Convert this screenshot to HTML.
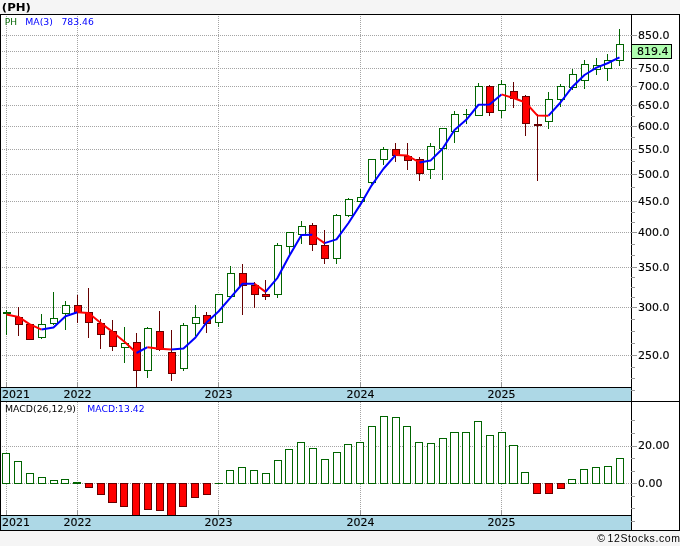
<!DOCTYPE html>
<html><head><meta charset="utf-8"><title>(PH)</title>
<style>
html,body{margin:0;padding:0;background:#f5f5f5;}
svg{display:block}
.sh rect{shape-rendering:crispEdges}
.sh line{shape-rendering:crispEdges}
text{font-family:"Liberation Sans",sans-serif;font-size:10px;fill:#000}
.ttl{font-family:"DejaVu Sans","Liberation Sans",sans-serif;font-weight:bold;font-size:11px}
.lg{font-family:"DejaVu Sans","Liberation Sans",sans-serif;font-size:9px}
.ax{font-family:"DejaVu Sans","Liberation Sans",sans-serif;font-size:11px;stroke:#000;stroke-width:0.12px}
.cp{font-family:"Liberation Sans",sans-serif;font-size:10.5px}
</style></head>
<body>
<svg width="680" height="546" viewBox="0 0 680 546">
<g class="sh">
<rect x="0" y="0" width="680" height="546" fill="#f5f5f5"/>
<rect x="0" y="14" width="680" height="517" fill="#fff"/>
<rect x="1" y="388" width="630" height="13" fill="#add8e6"/>
<rect x="1" y="516" width="630" height="14" fill="#add8e6"/>
<g stroke="#a4a4a4" stroke-width="1" stroke-dasharray="1 1" fill="none">
<line x1="2" y1="35.5" x2="631" y2="35.5"/>
<line x1="2" y1="51.5" x2="631" y2="51.5"/>
<line x1="2" y1="68.5" x2="631" y2="68.5"/>
<line x1="2" y1="86.5" x2="631" y2="86.5"/>
<line x1="2" y1="105.5" x2="631" y2="105.5"/>
<line x1="2" y1="126.5" x2="631" y2="126.5"/>
<line x1="2" y1="149.5" x2="631" y2="149.5"/>
<line x1="2" y1="174.5" x2="631" y2="174.5"/>
<line x1="2" y1="201.5" x2="631" y2="201.5"/>
<line x1="2" y1="232.5" x2="631" y2="232.5"/>
<line x1="2" y1="267.5" x2="631" y2="267.5"/>
<line x1="2" y1="307.5" x2="631" y2="307.5"/>
<line x1="2" y1="355.5" x2="631" y2="355.5"/>
<line x1="2" y1="446.5" x2="631" y2="446.5"/>
<line x1="2" y1="483.5" x2="631" y2="483.5"/>
<line x1="6.5" y1="16" x2="6.5" y2="382"/>
<line x1="6.5" y1="402" x2="6.5" y2="510"/>
<line x1="77.5" y1="16" x2="77.5" y2="382"/>
<line x1="77.5" y1="402" x2="77.5" y2="510"/>
<line x1="218.5" y1="16" x2="218.5" y2="382"/>
<line x1="218.5" y1="402" x2="218.5" y2="510"/>
<line x1="360.5" y1="16" x2="360.5" y2="382"/>
<line x1="360.5" y1="402" x2="360.5" y2="510"/>
<line x1="501.5" y1="16" x2="501.5" y2="382"/>
<line x1="501.5" y1="402" x2="501.5" y2="510"/>
</g>
<rect x="6" y="382" width="1" height="5" fill="#989898"/>
<rect x="6" y="510" width="1" height="5" fill="#989898"/>
<rect x="77" y="382" width="1" height="5" fill="#989898"/>
<rect x="77" y="510" width="1" height="5" fill="#989898"/>
<rect x="218" y="382" width="1" height="5" fill="#989898"/>
<rect x="218" y="510" width="1" height="5" fill="#989898"/>
<rect x="360" y="382" width="1" height="5" fill="#989898"/>
<rect x="360" y="510" width="1" height="5" fill="#989898"/>
<rect x="501" y="382" width="1" height="5" fill="#989898"/>
<rect x="501" y="510" width="1" height="5" fill="#989898"/>
<rect x="2" y="453" width="8" height="31" fill="#006400"/>
<rect x="3" y="454" width="6" height="29" fill="#fff"/>
<rect x="14" y="461" width="8" height="23" fill="#006400"/>
<rect x="15" y="462" width="6" height="21" fill="#fff"/>
<rect x="26" y="473" width="8" height="11" fill="#006400"/>
<rect x="27" y="474" width="6" height="9" fill="#fff"/>
<rect x="38" y="477" width="8" height="7" fill="#006400"/>
<rect x="39" y="478" width="6" height="5" fill="#fff"/>
<rect x="50" y="480" width="8" height="4" fill="#006400"/>
<rect x="51" y="481" width="6" height="2" fill="#fff"/>
<rect x="61" y="479" width="8" height="5" fill="#006400"/>
<rect x="62" y="480" width="6" height="3" fill="#fff"/>
<rect x="73" y="482" width="8" height="2" fill="#006400"/>
<rect x="85" y="483" width="8" height="5" fill="#660000"/>
<rect x="86" y="484" width="6" height="3" fill="#ff0000"/>
<rect x="97" y="483" width="8" height="12" fill="#660000"/>
<rect x="98" y="484" width="6" height="10" fill="#ff0000"/>
<rect x="108" y="483" width="9" height="20" fill="#660000"/>
<rect x="109" y="484" width="7" height="18" fill="#ff0000"/>
<rect x="120" y="483" width="8" height="24" fill="#660000"/>
<rect x="121" y="484" width="6" height="22" fill="#ff0000"/>
<rect x="132" y="483" width="8" height="32" fill="#660000"/>
<rect x="133" y="484" width="6" height="31" fill="#ff0000"/>
<rect x="144" y="483" width="8" height="27" fill="#660000"/>
<rect x="145" y="484" width="6" height="25" fill="#ff0000"/>
<rect x="156" y="483" width="8" height="28" fill="#660000"/>
<rect x="157" y="484" width="6" height="26" fill="#ff0000"/>
<rect x="167" y="483" width="9" height="32" fill="#660000"/>
<rect x="168" y="484" width="7" height="31" fill="#ff0000"/>
<rect x="179" y="483" width="8" height="24" fill="#660000"/>
<rect x="180" y="484" width="6" height="22" fill="#ff0000"/>
<rect x="191" y="483" width="8" height="15" fill="#660000"/>
<rect x="192" y="484" width="6" height="13" fill="#ff0000"/>
<rect x="203" y="483" width="8" height="12" fill="#660000"/>
<rect x="204" y="484" width="6" height="10" fill="#ff0000"/>
<rect x="215" y="483" width="8" height="1" fill="#006400"/>
<rect x="226" y="470" width="8" height="14" fill="#006400"/>
<rect x="227" y="471" width="6" height="12" fill="#fff"/>
<rect x="238" y="467" width="8" height="17" fill="#006400"/>
<rect x="239" y="468" width="6" height="15" fill="#fff"/>
<rect x="250" y="470" width="8" height="14" fill="#006400"/>
<rect x="251" y="471" width="6" height="12" fill="#fff"/>
<rect x="262" y="473" width="8" height="11" fill="#006400"/>
<rect x="263" y="474" width="6" height="9" fill="#fff"/>
<rect x="274" y="460" width="8" height="24" fill="#006400"/>
<rect x="275" y="461" width="6" height="22" fill="#fff"/>
<rect x="285" y="449" width="8" height="35" fill="#006400"/>
<rect x="286" y="450" width="6" height="33" fill="#fff"/>
<rect x="297" y="442" width="8" height="42" fill="#006400"/>
<rect x="298" y="443" width="6" height="40" fill="#fff"/>
<rect x="309" y="448" width="8" height="36" fill="#006400"/>
<rect x="310" y="449" width="6" height="34" fill="#fff"/>
<rect x="321" y="459" width="8" height="25" fill="#006400"/>
<rect x="322" y="460" width="6" height="23" fill="#fff"/>
<rect x="333" y="452" width="8" height="32" fill="#006400"/>
<rect x="334" y="453" width="6" height="30" fill="#fff"/>
<rect x="344" y="444" width="8" height="40" fill="#006400"/>
<rect x="345" y="445" width="6" height="38" fill="#fff"/>
<rect x="356" y="442" width="8" height="42" fill="#006400"/>
<rect x="357" y="443" width="6" height="40" fill="#fff"/>
<rect x="368" y="426" width="8" height="58" fill="#006400"/>
<rect x="369" y="427" width="6" height="56" fill="#fff"/>
<rect x="380" y="416" width="8" height="68" fill="#006400"/>
<rect x="381" y="417" width="6" height="66" fill="#fff"/>
<rect x="392" y="417" width="8" height="67" fill="#006400"/>
<rect x="393" y="418" width="6" height="65" fill="#fff"/>
<rect x="403" y="426" width="8" height="58" fill="#006400"/>
<rect x="404" y="427" width="6" height="56" fill="#fff"/>
<rect x="415" y="442" width="8" height="42" fill="#006400"/>
<rect x="416" y="443" width="6" height="40" fill="#fff"/>
<rect x="427" y="443" width="8" height="41" fill="#006400"/>
<rect x="428" y="444" width="6" height="39" fill="#fff"/>
<rect x="439" y="438" width="8" height="46" fill="#006400"/>
<rect x="440" y="439" width="6" height="44" fill="#fff"/>
<rect x="450" y="432" width="9" height="52" fill="#006400"/>
<rect x="451" y="433" width="7" height="50" fill="#fff"/>
<rect x="462" y="432" width="8" height="52" fill="#006400"/>
<rect x="463" y="433" width="6" height="50" fill="#fff"/>
<rect x="474" y="421" width="8" height="63" fill="#006400"/>
<rect x="475" y="422" width="6" height="61" fill="#fff"/>
<rect x="486" y="435" width="8" height="49" fill="#006400"/>
<rect x="487" y="436" width="6" height="47" fill="#fff"/>
<rect x="498" y="432" width="8" height="52" fill="#006400"/>
<rect x="499" y="433" width="6" height="50" fill="#fff"/>
<rect x="509" y="445" width="9" height="39" fill="#006400"/>
<rect x="510" y="446" width="7" height="37" fill="#fff"/>
<rect x="521" y="472" width="8" height="12" fill="#006400"/>
<rect x="522" y="473" width="6" height="10" fill="#fff"/>
<rect x="533" y="483" width="8" height="11" fill="#660000"/>
<rect x="534" y="484" width="6" height="9" fill="#ff0000"/>
<rect x="545" y="483" width="8" height="11" fill="#660000"/>
<rect x="546" y="484" width="6" height="9" fill="#ff0000"/>
<rect x="557" y="483" width="8" height="6" fill="#660000"/>
<rect x="558" y="484" width="6" height="4" fill="#ff0000"/>
<rect x="568" y="479" width="8" height="5" fill="#006400"/>
<rect x="569" y="480" width="6" height="3" fill="#fff"/>
<rect x="580" y="469" width="8" height="15" fill="#006400"/>
<rect x="581" y="470" width="6" height="13" fill="#fff"/>
<rect x="592" y="467" width="8" height="17" fill="#006400"/>
<rect x="593" y="468" width="6" height="15" fill="#fff"/>
<rect x="604" y="466" width="8" height="18" fill="#006400"/>
<rect x="605" y="467" width="6" height="16" fill="#fff"/>
<rect x="616" y="458" width="8" height="26" fill="#006400"/>
<rect x="617" y="459" width="6" height="24" fill="#fff"/>
<rect x="6" y="310" width="1" height="25" fill="#006400"/>
<rect x="3" y="312" width="8" height="2" fill="#006400"/>
<rect x="18" y="307" width="1" height="29" fill="#660000"/>
<rect x="15" y="317" width="8" height="8" fill="#660000"/>
<rect x="16" y="318" width="6" height="6" fill="#ff0000"/>
<rect x="29" y="324" width="1" height="16" fill="#660000"/>
<rect x="26" y="324" width="8" height="16" fill="#660000"/>
<rect x="27" y="325" width="6" height="14" fill="#ff0000"/>
<rect x="41" y="314" width="1" height="25" fill="#006400"/>
<rect x="38" y="324" width="8" height="14" fill="#006400"/>
<rect x="39" y="325" width="6" height="12" fill="#fff"/>
<rect x="53" y="292" width="1" height="33" fill="#006400"/>
<rect x="50" y="318" width="8" height="6" fill="#006400"/>
<rect x="51" y="319" width="6" height="4" fill="#fff"/>
<rect x="65" y="301" width="1" height="29" fill="#006400"/>
<rect x="62" y="305" width="8" height="9" fill="#006400"/>
<rect x="63" y="306" width="6" height="7" fill="#fff"/>
<rect x="77" y="295" width="1" height="28" fill="#660000"/>
<rect x="74" y="305" width="8" height="8" fill="#660000"/>
<rect x="75" y="306" width="6" height="6" fill="#ff0000"/>
<rect x="88" y="288" width="1" height="50" fill="#660000"/>
<rect x="85" y="312" width="8" height="11" fill="#660000"/>
<rect x="86" y="313" width="6" height="9" fill="#ff0000"/>
<rect x="100" y="319" width="1" height="30" fill="#660000"/>
<rect x="97" y="323" width="8" height="12" fill="#660000"/>
<rect x="98" y="324" width="6" height="10" fill="#ff0000"/>
<rect x="112" y="320" width="1" height="31" fill="#660000"/>
<rect x="109" y="331" width="8" height="16" fill="#660000"/>
<rect x="110" y="332" width="6" height="14" fill="#ff0000"/>
<rect x="124" y="327" width="1" height="36" fill="#006400"/>
<rect x="121" y="343" width="8" height="5" fill="#006400"/>
<rect x="122" y="344" width="6" height="3" fill="#fff"/>
<rect x="136" y="333" width="1" height="54" fill="#660000"/>
<rect x="133" y="342" width="8" height="29" fill="#660000"/>
<rect x="134" y="343" width="6" height="27" fill="#ff0000"/>
<rect x="147" y="327" width="1" height="51" fill="#006400"/>
<rect x="144" y="328" width="8" height="43" fill="#006400"/>
<rect x="145" y="329" width="6" height="41" fill="#fff"/>
<rect x="159" y="311" width="1" height="40" fill="#660000"/>
<rect x="156" y="331" width="8" height="19" fill="#660000"/>
<rect x="157" y="332" width="6" height="17" fill="#ff0000"/>
<rect x="171" y="330" width="1" height="51" fill="#660000"/>
<rect x="168" y="352" width="8" height="22" fill="#660000"/>
<rect x="169" y="353" width="6" height="20" fill="#ff0000"/>
<rect x="183" y="323" width="1" height="48" fill="#006400"/>
<rect x="180" y="325" width="8" height="44" fill="#006400"/>
<rect x="181" y="326" width="6" height="42" fill="#fff"/>
<rect x="195" y="305" width="1" height="31" fill="#006400"/>
<rect x="192" y="317" width="8" height="7" fill="#006400"/>
<rect x="193" y="318" width="6" height="5" fill="#fff"/>
<rect x="206" y="312" width="1" height="21" fill="#660000"/>
<rect x="203" y="315" width="8" height="9" fill="#660000"/>
<rect x="204" y="316" width="6" height="7" fill="#ff0000"/>
<rect x="218" y="294" width="1" height="33" fill="#006400"/>
<rect x="215" y="294" width="8" height="29" fill="#006400"/>
<rect x="216" y="295" width="6" height="27" fill="#fff"/>
<rect x="230" y="266" width="1" height="31" fill="#006400"/>
<rect x="227" y="273" width="8" height="24" fill="#006400"/>
<rect x="228" y="274" width="6" height="22" fill="#fff"/>
<rect x="242" y="264" width="1" height="51" fill="#660000"/>
<rect x="239" y="273" width="8" height="13" fill="#660000"/>
<rect x="240" y="274" width="6" height="11" fill="#ff0000"/>
<rect x="254" y="282" width="1" height="26" fill="#660000"/>
<rect x="251" y="285" width="8" height="10" fill="#660000"/>
<rect x="252" y="286" width="6" height="8" fill="#ff0000"/>
<rect x="265" y="280" width="1" height="20" fill="#660000"/>
<rect x="262" y="294" width="8" height="3" fill="#660000"/>
<rect x="263" y="295" width="6" height="1" fill="#ff0000"/>
<rect x="277" y="243" width="1" height="55" fill="#006400"/>
<rect x="274" y="245" width="8" height="50" fill="#006400"/>
<rect x="275" y="246" width="6" height="48" fill="#fff"/>
<rect x="289" y="232" width="1" height="22" fill="#006400"/>
<rect x="286" y="232" width="8" height="15" fill="#006400"/>
<rect x="287" y="233" width="6" height="13" fill="#fff"/>
<rect x="301" y="221" width="1" height="23" fill="#006400"/>
<rect x="298" y="226" width="8" height="9" fill="#006400"/>
<rect x="299" y="227" width="6" height="7" fill="#fff"/>
<rect x="312" y="223" width="1" height="28" fill="#660000"/>
<rect x="309" y="225" width="8" height="20" fill="#660000"/>
<rect x="310" y="226" width="6" height="18" fill="#ff0000"/>
<rect x="324" y="230" width="1" height="34" fill="#660000"/>
<rect x="321" y="245" width="8" height="14" fill="#660000"/>
<rect x="322" y="246" width="6" height="12" fill="#ff0000"/>
<rect x="336" y="214" width="1" height="50" fill="#006400"/>
<rect x="333" y="215" width="8" height="44" fill="#006400"/>
<rect x="334" y="216" width="6" height="42" fill="#fff"/>
<rect x="348" y="198" width="1" height="19" fill="#006400"/>
<rect x="345" y="199" width="8" height="17" fill="#006400"/>
<rect x="346" y="200" width="6" height="15" fill="#fff"/>
<rect x="360" y="189" width="1" height="13" fill="#006400"/>
<rect x="357" y="197" width="8" height="5" fill="#006400"/>
<rect x="358" y="198" width="6" height="3" fill="#fff"/>
<rect x="371" y="159" width="1" height="25" fill="#006400"/>
<rect x="368" y="159" width="8" height="24" fill="#006400"/>
<rect x="369" y="160" width="6" height="22" fill="#fff"/>
<rect x="383" y="147" width="1" height="18" fill="#006400"/>
<rect x="380" y="149" width="8" height="11" fill="#006400"/>
<rect x="381" y="150" width="6" height="9" fill="#fff"/>
<rect x="395" y="143" width="1" height="19" fill="#660000"/>
<rect x="392" y="149" width="8" height="7" fill="#660000"/>
<rect x="393" y="150" width="6" height="5" fill="#ff0000"/>
<rect x="407" y="143" width="1" height="27" fill="#660000"/>
<rect x="404" y="156" width="8" height="5" fill="#660000"/>
<rect x="405" y="157" width="6" height="3" fill="#ff0000"/>
<rect x="419" y="157" width="1" height="24" fill="#660000"/>
<rect x="416" y="159" width="8" height="15" fill="#660000"/>
<rect x="417" y="160" width="6" height="13" fill="#ff0000"/>
<rect x="430" y="143" width="1" height="36" fill="#006400"/>
<rect x="427" y="146" width="8" height="24" fill="#006400"/>
<rect x="428" y="147" width="6" height="22" fill="#fff"/>
<rect x="442" y="128" width="1" height="52" fill="#006400"/>
<rect x="439" y="128" width="8" height="21" fill="#006400"/>
<rect x="440" y="129" width="6" height="19" fill="#fff"/>
<rect x="454" y="111" width="1" height="32" fill="#006400"/>
<rect x="451" y="114" width="8" height="18" fill="#006400"/>
<rect x="452" y="115" width="6" height="16" fill="#fff"/>
<rect x="466" y="109" width="1" height="15" fill="#006400"/>
<rect x="463" y="114" width="8" height="1" fill="#006400"/>
<rect x="478" y="83" width="1" height="33" fill="#006400"/>
<rect x="475" y="86" width="8" height="30" fill="#006400"/>
<rect x="476" y="87" width="6" height="28" fill="#fff"/>
<rect x="489" y="85" width="1" height="31" fill="#660000"/>
<rect x="486" y="86" width="8" height="27" fill="#660000"/>
<rect x="487" y="87" width="6" height="25" fill="#ff0000"/>
<rect x="501" y="80" width="1" height="38" fill="#006400"/>
<rect x="498" y="84" width="8" height="27" fill="#006400"/>
<rect x="499" y="85" width="6" height="25" fill="#fff"/>
<rect x="513" y="82" width="1" height="26" fill="#660000"/>
<rect x="510" y="91" width="8" height="8" fill="#660000"/>
<rect x="511" y="92" width="6" height="6" fill="#ff0000"/>
<rect x="525" y="95" width="1" height="41" fill="#660000"/>
<rect x="522" y="96" width="8" height="28" fill="#660000"/>
<rect x="523" y="97" width="6" height="26" fill="#ff0000"/>
<rect x="537" y="114" width="1" height="67" fill="#660000"/>
<rect x="534" y="124" width="8" height="2" fill="#660000"/>
<rect x="548" y="92" width="1" height="37" fill="#006400"/>
<rect x="545" y="99" width="8" height="23" fill="#006400"/>
<rect x="546" y="100" width="6" height="21" fill="#fff"/>
<rect x="560" y="84" width="1" height="23" fill="#006400"/>
<rect x="557" y="86" width="8" height="14" fill="#006400"/>
<rect x="558" y="87" width="6" height="12" fill="#fff"/>
<rect x="572" y="69" width="1" height="21" fill="#006400"/>
<rect x="569" y="74" width="8" height="14" fill="#006400"/>
<rect x="570" y="75" width="6" height="12" fill="#fff"/>
<rect x="584" y="60" width="1" height="29" fill="#006400"/>
<rect x="581" y="64" width="8" height="17" fill="#006400"/>
<rect x="582" y="65" width="6" height="15" fill="#fff"/>
<rect x="596" y="58" width="1" height="17" fill="#006400"/>
<rect x="593" y="65" width="8" height="5" fill="#006400"/>
<rect x="594" y="66" width="6" height="3" fill="#fff"/>
<rect x="607" y="54" width="1" height="27" fill="#006400"/>
<rect x="604" y="60" width="8" height="9" fill="#006400"/>
<rect x="605" y="61" width="6" height="7" fill="#fff"/>
<rect x="619" y="29" width="1" height="37" fill="#006400"/>
<rect x="616" y="44" width="8" height="17" fill="#006400"/>
<rect x="617" y="45" width="6" height="15" fill="#fff"/>
<rect x="0" y="14" width="680" height="1" fill="#000"/>
<rect x="0" y="14" width="1" height="517" fill="#000"/>
<rect x="679" y="14" width="1" height="517" fill="#000"/>
<rect x="0" y="530" width="680" height="1" fill="#000"/>
<rect x="631" y="14" width="1" height="517" fill="#000"/>
<rect x="0" y="387" width="632" height="1" fill="#000"/>
<rect x="0" y="401" width="680" height="1" fill="#000"/>
<rect x="0" y="515" width="632" height="1" fill="#000"/>
<rect x="631" y="35" width="6" height="1" fill="#989898"/>
<rect x="631" y="51" width="6" height="1" fill="#989898"/>
<rect x="631" y="68" width="6" height="1" fill="#989898"/>
<rect x="631" y="86" width="6" height="1" fill="#989898"/>
<rect x="631" y="105" width="6" height="1" fill="#989898"/>
<rect x="631" y="126" width="6" height="1" fill="#989898"/>
<rect x="631" y="149" width="6" height="1" fill="#989898"/>
<rect x="631" y="174" width="6" height="1" fill="#989898"/>
<rect x="631" y="201" width="6" height="1" fill="#989898"/>
<rect x="631" y="232" width="6" height="1" fill="#989898"/>
<rect x="631" y="267" width="6" height="1" fill="#989898"/>
<rect x="631" y="307" width="6" height="1" fill="#989898"/>
<rect x="631" y="355" width="6" height="1" fill="#989898"/>
<rect x="631" y="446" width="6" height="1" fill="#989898"/>
<rect x="631" y="483" width="6" height="1" fill="#989898"/>
<rect x="631" y="116" width="4" height="1" fill="#989898"/>
<rect x="631" y="137" width="4" height="1" fill="#989898"/>
<rect x="631" y="161" width="4" height="1" fill="#989898"/>
<rect x="631" y="187" width="4" height="1" fill="#989898"/>
<rect x="631" y="212" width="4" height="1" fill="#989898"/>
<rect x="631" y="222" width="4" height="1" fill="#989898"/>
<rect x="631" y="244" width="4" height="1" fill="#989898"/>
<rect x="631" y="255" width="4" height="1" fill="#989898"/>
<rect x="631" y="277" width="4" height="1" fill="#989898"/>
<rect x="631" y="287" width="4" height="1" fill="#989898"/>
<rect x="631" y="297" width="4" height="1" fill="#989898"/>
<rect x="631" y="319" width="4" height="1" fill="#989898"/>
<rect x="631" y="331" width="4" height="1" fill="#989898"/>
<rect x="631" y="343" width="4" height="1" fill="#989898"/>
<rect x="631" y="367" width="4" height="1" fill="#989898"/>
<rect x="631" y="378" width="4" height="1" fill="#989898"/>
<rect x="631" y="390" width="4" height="1" fill="#989898"/>
<rect x="631" y="420" width="4" height="1" fill="#989898"/>
<rect x="631" y="433" width="4" height="1" fill="#989898"/>
<rect x="631" y="458" width="4" height="1" fill="#989898"/>
<rect x="631" y="471" width="4" height="1" fill="#989898"/>
<rect x="631" y="496" width="4" height="1" fill="#989898"/>
<rect x="631" y="508" width="4" height="1" fill="#989898"/>
<rect x="631" y="521" width="4" height="1" fill="#989898"/>
<rect x="631" y="44" width="41" height="15" fill="#000"/>
<rect x="632" y="45" width="39" height="13" fill="#b0ffb0"/>
</g>
<g fill="none" stroke-width="2" stroke-linejoin="round" stroke-linecap="butt"><polyline points="6.5,314.6 18.5,316.9 29.5,324.1 41.5,329.6" stroke="#ff0000"/><polyline points="41.5,329.6 53.5,327.5 65.5,316.25 77.5,312.25" stroke="#0000ff"/><polyline points="77.5,312.25 88.5,313 100.5,322.75 112.5,331.9 124.5,341.7 136.5,353" stroke="#ff0000"/><polyline points="136.5,353 147.5,347.2" stroke="#0000ff"/><polyline points="147.5,347.2 159.5,348.75 171.5,349.6" stroke="#ff0000"/><polyline points="171.5,349.6 183.5,348.6 195.5,337.5 206.5,322.5 218.5,311.5 230.5,297.7 242.5,283.75 254.5,283.7" stroke="#0000ff"/><polyline points="254.5,283.7 265.5,291.9" stroke="#ff0000"/><polyline points="265.5,291.9 277.5,277.8 289.5,255.6 301.5,234.9 312.5,234.8" stroke="#0000ff"/><polyline points="312.5,234.8 324.5,243.1" stroke="#ff0000"/><polyline points="324.5,243.1 336.5,239.4 348.5,223 360.5,204.4 371.5,185.6 383.5,168.75 395.5,155.1" stroke="#0000ff"/><polyline points="395.5,155.1 407.5,155.6 419.5,162.5" stroke="#ff0000"/><polyline points="419.5,162.5 430.5,160.6 442.5,148.75 454.5,130 466.5,119.6 478.5,104.75 489.5,104.4 501.5,94.4" stroke="#0000ff"/><polyline points="501.5,94.4 513.5,98 525.5,102.5 537.5,115.6 548.5,115.7" stroke="#ff0000"/><polyline points="548.5,115.7 560.5,102.5 572.5,86.7 584.5,75 596.5,67.6 607.5,63.25 619.5,57.4" stroke="#0000ff"/></g>
<g>
<text x="1.8" y="10.7" class="ttl" textLength="29.1" lengthAdjust="spacingAndGlyphs">(PH)</text>
<text x="4.8" y="25" class="lg" style="fill:#006400">PH</text>
<text x="25.3" y="25" class="lg" style="fill:#0000ff" textLength="27.6" lengthAdjust="spacingAndGlyphs">MA(3)</text>
<text x="61.4" y="25" class="lg" style="fill:#0000ff" textLength="32.4" lengthAdjust="spacingAndGlyphs">783.46</text>
<text x="5.0" y="412" class="lg" textLength="71" lengthAdjust="spacingAndGlyphs">MACD(26,12,9)</text>
<text x="87.3" y="412" class="lg" style="fill:#0000ff" textLength="57.3" lengthAdjust="spacingAndGlyphs">MACD:13.42</text>
<text x="638" y="39" class="ax">850.0</text>
<text x="638" y="72" class="ax">750.0</text>
<text x="638" y="90" class="ax">700.0</text>
<text x="638" y="109" class="ax">650.0</text>
<text x="638" y="130" class="ax">600.0</text>
<text x="638" y="153" class="ax">550.0</text>
<text x="638" y="178" class="ax">500.0</text>
<text x="638" y="205" class="ax">450.0</text>
<text x="638" y="236" class="ax">400.0</text>
<text x="638" y="271" class="ax">350.0</text>
<text x="638" y="311" class="ax">300.0</text>
<text x="638" y="359" class="ax">250.0</text>
<text x="638" y="449.2" class="ax">20.00</text>
<text x="638" y="486.6" class="ax">0.00</text>
<text x="637" y="55" class="ax">819.4</text>
<text x="2" y="398" class="ax">2021</text>
<text x="77.5" y="398" class="ax" text-anchor="middle">2022</text>
<text x="218.5" y="398" class="ax" text-anchor="middle">2023</text>
<text x="360.5" y="398" class="ax" text-anchor="middle">2024</text>
<text x="501.5" y="398" class="ax" text-anchor="middle">2025</text>
<text x="2" y="526" class="ax">2021</text>
<text x="77.5" y="526" class="ax" text-anchor="middle">2022</text>
<text x="218.5" y="526" class="ax" text-anchor="middle">2023</text>
<text x="360.5" y="526" class="ax" text-anchor="middle">2024</text>
<text x="501.5" y="526" class="ax" text-anchor="middle">2025</text>
<text y="541.5" class="cp"><tspan x="597.3">©</tspan><tspan x="607.6" textLength="72.3" lengthAdjust="spacing">12Stocks.com</tspan></text>
</g>
</svg>
</body></html>
